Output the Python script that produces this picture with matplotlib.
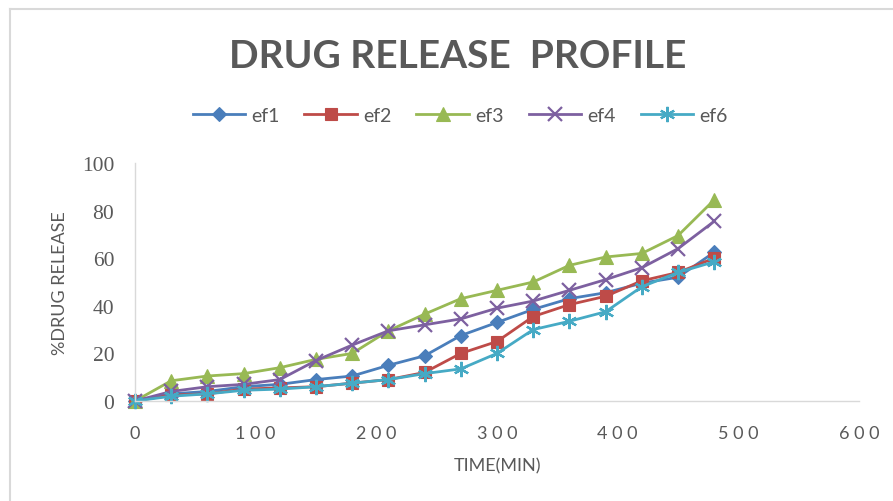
import matplotlib
matplotlib.use("Agg")
import matplotlib.pyplot as plt
from matplotlib.lines import Line2D

# sampling times (min)
time_min = [0, 30, 60, 90, 120, 150, 180, 210, 240, 270, 300, 330, 360, 390, 420, 450, 480]

# cumulative % drug release per formulation
ef1 = [0, 3, 4, 6, 7, 9, 10.5, 15, 19, 27.5, 33, 38.5, 43, 45.5, 49.5, 52, 62.5]
ef2 = [0, 2.5, 3, 5, 5.5, 6, 7.5, 9, 12, 20, 25, 35.5, 40.5, 44, 50.5, 54, 60]
ef3 = [0, 8.5, 10.5, 11.5, 14, 17.5, 20, 29.5, 36.5, 43, 46.5, 50, 57, 60.5, 62, 69.5, 84.5]
ef4 = [0, 4, 6, 7, 9, 17, 23.5, 29.5, 32, 34.5, 39, 42, 46.5, 51, 56, 64, 75.5]
ef6 = [0, 2, 3, 4.5, 5, 6, 7.5, 9, 11.5, 13.5, 20, 30, 33.5, 37.5, 48, 54, 58.5]

series = [
    ("ef1", ef1, "#4A7EBB", "D", 7),
    ("ef2", ef2, "#BE4B48", "s", 8.5),
    ("ef3", ef3, "#98B954", "^", 10),
    ("ef4", ef4, "#7D60A0", "x", 10),
    ("ef6", ef6, "#46AAC5", (6, 2, 0), 11),
]

x_ticks = [0, 100, 200, 300, 400, 500, 600]
y_ticks = [0, 20, 40, 60, 80, 100]

grey = "#595959"
W, H = 893, 502

fig = plt.figure(figsize=(W / 100, H / 100), dpi=100)
ax = fig.add_axes([135 / W, 1 - 402 / H, (859 - 135) / W, (402 - 164) / H])

for name, vals, col, mk, ms in series:
    ax.plot(time_min, vals, color=col, lw=2.0, marker=mk, markersize=ms,
            markeredgewidth=1.6 if mk in ("x", (6, 2, 0)) else 0.8,
            markeredgecolor=col, markerfacecolor=col, label=name, clip_on=False)

ax.set_xlim(0, 600)
ax.set_ylim(0, 100)
ax.set_xticks(x_ticks)
ax.set_xticklabels([" ".join(str(t)) for t in x_ticks],
                   fontfamily="Lato", fontsize=13, color=grey)
ax.set_yticks(y_ticks)
ax.set_yticklabels([str(t) for t in y_ticks], fontfamily="Liberation Serif",
                   fontsize=15.5, color=grey)
ax.tick_params(axis="x", length=0, pad=17)
ax.tick_params(axis="y", length=0, pad=15)

for side in ("top", "right"):
    ax.spines[side].set_visible(False)
for side in ("left", "bottom"):
    ax.spines[side].set_color("#d9d9d9")
    ax.spines[side].set_linewidth(1.0)

ax.set_xlabel("TIME(MIN)", fontfamily="Lato", fontsize=13, color=grey, labelpad=12)
ax.set_ylabel("%DRUG RELEASE", fontfamily="Lato", fontsize=13, color=grey, labelpad=10)

fig.text(0.513, 1 - 57 / H, "DRUG RELEASE  PROFILE", ha="center", va="center",
         fontfamily="Lato", fontweight="bold", fontsize=28, color=grey)

fig.legend(loc="center", bbox_to_anchor=(0.515, 1 - 116 / H), ncol=5, frameon=False,
           prop={"family": "Lato", "size": 14}, handlelength=2.7, columnspacing=1.3,
           handletextpad=0.3, labelcolor=grey)

# outer chart frame
fig.add_artist(Line2D([10 / W, 10 / W], [0, 1 - 10 / H], color="#d9d9d9", lw=1.5))
fig.add_artist(Line2D([10 / W, 1], [1 - 10 / H, 1 - 10 / H], color="#d9d9d9", lw=1.5))

fig.savefig("out.png", dpi=100)
